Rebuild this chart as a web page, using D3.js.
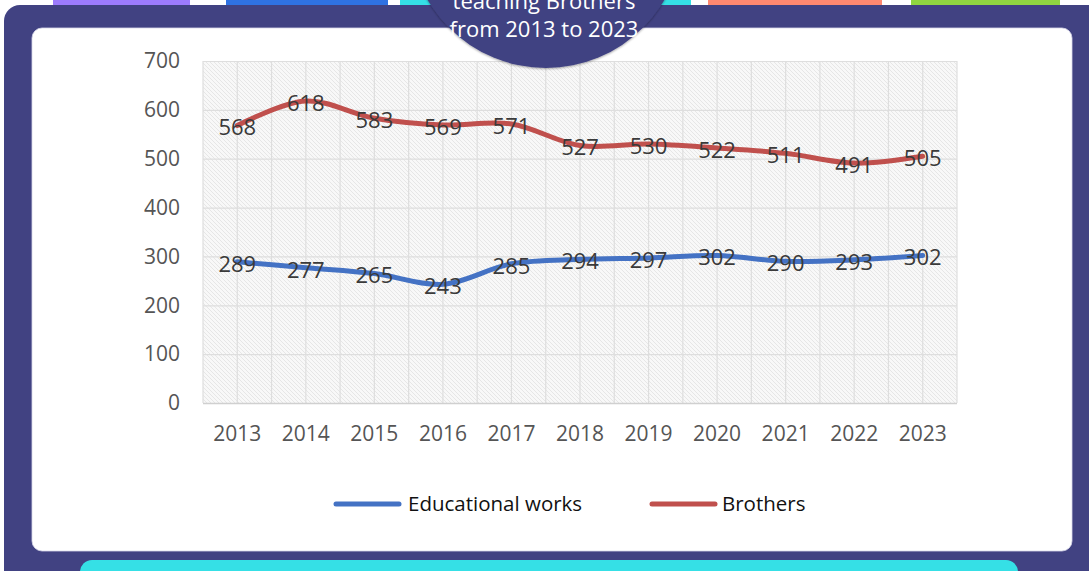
<!DOCTYPE html>
<html>
<head>
<meta charset="utf-8">
<script src="https://cdn.jsdelivr.net/npm/d3@7"></script>
<style>
html,body{margin:0;padding:0;background:#fff;}
svg{display:block;}
</style>
</head>
<body>
<svg id="c" width="1089" height="571"></svg>
<script>
const years = ["2013","2014","2015","2016","2017","2018","2019","2020","2021","2022","2023"];
const educationalWorks = [289,277,265,243,285,294,297,302,290,293,302];
const brothers = [568,618,583,569,571,527,530,522,511,491,505];
const yTicks = [0,100,200,300,400,500,600,700];
const seriesNames = ["Educational works","Brothers"];
const titleLines = ["teaching Brothers","from 2013 to 2023"];

const svg = d3.select("#c");
const FONT = "'Open Sans', sans-serif";

// pattern
const defs = svg.append("defs");
const pat = defs.append("pattern").attr("id","hatch").attr("patternUnits","userSpaceOnUse")
  .attr("width",4).attr("height",4);
pat.append("rect").attr("width",4).attr("height",4).attr("fill","#f8f8f8");
pat.append("path").attr("d","M-1,-1 L5,5 M-1,3 L1,5 M3,-1 L5,1").attr("stroke","#e6e6e6").attr("stroke-width",1);
const sh = defs.append("filter").attr("id","sh").attr("x","-20%").attr("y","-20%").attr("width","140%").attr("height","140%");
sh.append("feDropShadow").attr("dx",0).attr("dy",1).attr("stdDeviation",1).attr("flood-color","#000").attr("flood-opacity",0.35);

// top tabs
const tabs = [
  {x:53,w:137,c:"#9c7bfd"},
  {x:226,w:162,c:"#2f72e3"},
  {x:400,w:291,c:"#35e0e6"},
  {x:708,w:174,c:"#ff8870"},
  {x:911,w:149,c:"#8fd640"}
];
tabs.forEach(t=>{
  svg.append("rect").attr("x",t.x).attr("y",-10).attr("width",t.w).attr("height",23).attr("rx",6).attr("fill",t.c);
});

// frame
svg.append("rect").attr("x",4).attr("y",5).attr("width",1120).attr("height",620).attr("rx",16).attr("fill","#414282");
// cyan bottom bar
svg.append("rect").attr("x",80).attr("y",560).attr("width",938).attr("height",40).attr("rx",12).attr("fill","#35e0e6");
// white panel
svg.append("rect").attr("x",32).attr("y",28).attr("width",1040).attr("height",523).attr("rx",10).attr("fill","#fff")
  .attr("stroke","#d8d8ea").attr("stroke-width",0.8);

// chart
const L=203, R=957, T=61, B=403;
const x = d3.scaleBand().domain(years).range([L,R]);
const y = d3.scaleLinear().domain([0,700]).range([B,T]);

svg.append("rect").attr("x",L).attr("y",T).attr("width",R-L).attr("height",B-T).attr("fill","url(#hatch)");

// vertical gridlines (band edges and centers)
const vg = [];
years.forEach(yr=>{ vg.push(x(yr)); vg.push(x(yr)+x.bandwidth()/2); });
vg.push(R);
svg.append("g").selectAll("line").data(vg).join("line")
  .attr("x1",d=>d).attr("x2",d=>d).attr("y1",T).attr("y2",B)
  .attr("stroke","#dedede").attr("stroke-width",1.2);

// horizontal gridlines via axis
const yAxis = svg.append("g").attr("transform",`translate(${L},0)`)
  .call(d3.axisLeft(y).tickValues(yTicks).tickSize(-(R-L)).tickPadding(23));
yAxis.select(".domain").remove();
yAxis.selectAll(".tick line").attr("stroke",d=>d===0?"#d0d0d0":"#dedede").attr("stroke-width",d=>d===0?1.5:1.2);
yAxis.selectAll(".tick text").attr("font-family",FONT).attr("font-size",21).attr("fill","#555");

const xAxis = svg.append("g").attr("transform",`translate(0,${B})`)
  .call(d3.axisBottom(x).tickSize(0).tickPadding(23));
xAxis.select(".domain").remove();
xAxis.selectAll(".tick text").attr("font-family",FONT).attr("font-size",21).attr("fill","#555");

const cx = d => x(d) + x.bandwidth()/2;
const line = d3.line().x((d,i)=>cx(years[i])).y(d=>y(d)).curve(d3.curveCatmullRom.alpha(0.5));

const series = [
  {name:seriesNames[0], vals:educationalWorks, color:"#4472c4"},
  {name:seriesNames[1], vals:brothers, color:"#c0504d"}
];
series.forEach(s=>{
  svg.append("path").attr("d",line(s.vals)).attr("fill","none").attr("stroke",s.color)
    .attr("stroke-width",5).attr("stroke-linecap","round").attr("stroke-linejoin","round");
});
series.forEach(s=>{
  svg.append("g").selectAll("text").data(s.vals).join("text")
    .attr("x",(d,i)=>cx(years[i])).attr("y",d=>y(d)+2).attr("dy","0.36em")
    .attr("text-anchor","middle").attr("font-family",FONT).attr("font-size",22).attr("fill","#3a3a3a")
    .text(d=>d);
});

// legend
const legend = [
  {name:seriesNames[0], color:"#4472c4", x1:336, x2:399, tx:408},
  {name:seriesNames[1], color:"#c0504d", x1:652, x2:715, tx:722}
];
legend.forEach(l=>{
  svg.append("line").attr("x1",l.x1).attr("x2",l.x2).attr("y1",504).attr("y2",504)
    .attr("stroke",l.color).attr("stroke-width",5).attr("stroke-linecap","round");
  svg.append("text").attr("x",l.tx).attr("y",504).attr("dy","0.35em").attr("font-family",FONT)
    .attr("font-size",20.5).attr("fill","#111").text(l.name);
});

// title circle (drawn on top, overlapping plot top)
svg.append("circle").attr("cx",546).attr("cy",-69).attr("r",137).attr("fill","#414282").attr("filter","url(#sh)");
svg.append("text").attr("x",544).attr("y",9).attr("text-anchor","middle").attr("fill","#fff")
  .attr("font-family",FONT).attr("font-size",22).text(titleLines[0]);
svg.append("text").attr("x",544).attr("y",37).attr("text-anchor","middle").attr("fill","#fff")
  .attr("font-family",FONT).attr("font-size",22).text(titleLines[1]);
</script>
</body>
</html>
